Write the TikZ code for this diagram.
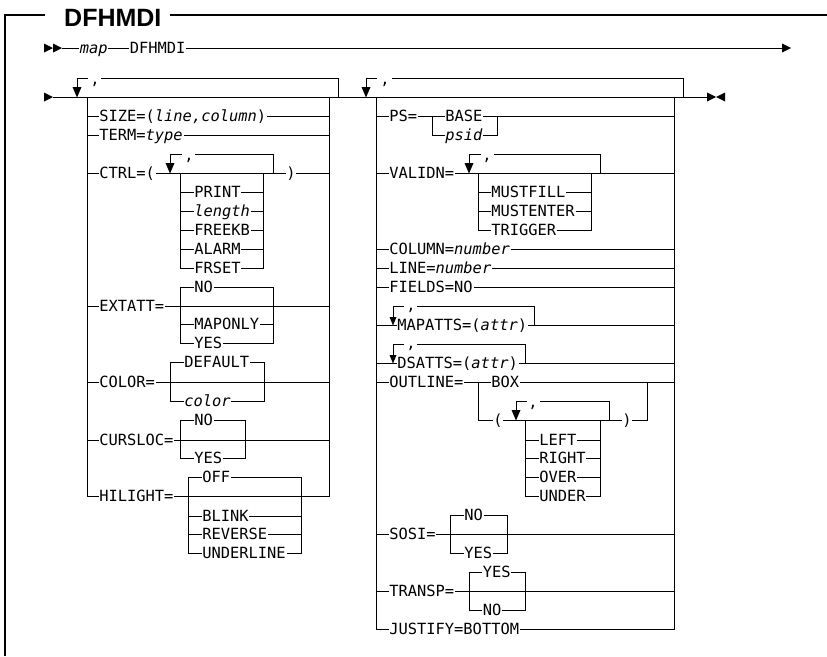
\documentclass[tikz,border=0pt]{standalone}
\usepackage{fontspec}
\newfontfamily\monofam{DejaVu Sans Mono}
\newfontfamily\titlefam{Liberation Sans}
\newcommand\vv[1]{{\itshape #1}}
\newcommand\downarr[2]{\fill (#1-4.5,#2-10) -- (#1+4.5,#2-10) -- (#1,#2+0.5) -- cycle;}
\newcommand\smallarr[2]{\fill (#1-3.5,#2-8) -- (#1+3.5,#2-8) -- (#1,#2+0.5) -- cycle;}
\newcommand\rightarr[2]{\fill (#1,#2-4.5) -- (#1+9,#2) -- (#1,#2+4.5) -- cycle;}
\newcommand\leftarr[2]{\fill (#1,#2-4.5) -- (#1-9,#2) -- (#1,#2+4.5) -- cycle;}
\begin{document}
\begin{tikzpicture}[x=1pt,y=-1pt,
  rail/.style={line width=0.9pt},
  frame/.style={line width=1.3pt},
  lab/.style={font=\monofam\fontsize{15.4}{18}\selectfont, anchor=west, inner xsep=0.6pt, inner ysep=0pt, text height=14pt, text depth=2.8pt},
  comma/.style={font=\monofam\fontsize{15.4}{18}\selectfont, anchor=base, inner sep=0pt}]
\useasboundingbox (0,0) rectangle (827,656);

% frame and title
\node[anchor=base west, inner sep=0pt, font=\titlefam\bfseries\fontsize{25}{29}\selectfont] (title) at (64,26) {DFHMDI};
\draw[frame] (45,15) -- (5,15) -- (5,656);
\draw[frame] (170,15) -- (827,15);

% line 1
\rightarr{44}{48}
\rightarr{53}{48}
\node[lab] (map) at (79,48) {\vv{map}};
\node[lab] (dfh) at (129,48) {DFHMDI};
\draw[rail] (62,48) -- (map.west) (map.east) -- (dfh.west) (dfh.east) -- (782,48);
\rightarr{782}{48}

% main line 2
\rightarr{44}{97}
\draw[rail] (53,97) -- (707,97);
\rightarr{707}{97}
\leftarr{725}{97}

% ---------- left group ----------
\draw[rail] (77,88) -- (77,78) -- (88,78);
\node[comma] (cm1) at (95,84.5) {,};
\draw[rail] (101,78) -- (338,78) -- (338,97);
\downarr{77}{97}

\node[lab] (size) at (98.5,116) {SIZE=(\vv{line,column})};
\draw[rail] (87,116) -- (size.west) (size.east) -- (329,116);
\node[lab] (term) at (98.5,135) {TERM=\vv{type}};
\draw[rail] (87,135) -- (term.west) (term.east) -- (329,135);

% CTRL
\node[lab] (ctrl) at (98.5,173) {CTRL=(};
\node[lab] (ctrlr) at (285.5,173) {)};
\draw[rail] (87,173) -- (ctrl.west) (ctrl.east) -- (ctrlr.west) (ctrlr.east) -- (329,173);
\draw[rail] (170,164) -- (170,154) -- (182,154);
\node[comma] (cm2) at (189,160.5) {,};
\draw[rail] (195,154) -- (273,154) -- (273,173);
\downarr{170}{173}
\node[lab] (print) at (193.5,192) {PRINT};
\node[lab] (length) at (193.5,211) {\vv{length}};
\node[lab] (freekb) at (193.5,230) {FREEKB};
\node[lab] (alarm) at (193.5,249) {ALARM};
\node[lab] (frset) at (193.5,268) {FRSET};
\draw[rail] (180,173) -- (180,268) -- (frset.west);
\draw[rail] (263,173) -- (263,268) -- (frset.east);
\foreach \n in {print,length,freekb,alarm} {
  \draw[rail] (\n.west) -- (\n.west -| 180,0) (\n.east) -- (\n.east -| 263,0);
}

% EXTATT
\node[lab] (extatt) at (98.5,306) {EXTATT=};
\draw[rail] (87,306) -- (extatt.west) (extatt.east) -- (329,306);
\node[lab] (exno) at (193.5,287) {NO};
\node[lab] (exmap) at (193.5,324) {MAPONLY};
\node[lab] (exyes) at (193.5,343) {YES};
\draw[rail] (exno.west) -- (180,287) -- (180,343) -- (exyes.west);
\draw[rail] (exno.east) -- (273,287) -- (273,343) -- (exyes.east);
\draw[rail] (180,324) -- (exmap.west) (exmap.east) -- (273,324);

% COLOR
\node[lab] (color) at (98.5,382) {COLOR=};
\draw[rail] (87,382) -- (color.west) (color.east) -- (329,382);
\node[lab] (codef) at (183.5,362) {DEFAULT};
\node[lab] (cocol) at (183.5,401) {\vv{color}};
\draw[rail] (codef.west) -- (170,362) -- (170,401) -- (cocol.west);
\draw[rail] (codef.east) -- (264,362) -- (264,401) -- (cocol.east);

% CURSLOC
\node[lab] (cursloc) at (98.5,440) {CURSLOC=};
\draw[rail] (87,440) -- (cursloc.west) (cursloc.east) -- (329,440);
\node[lab] (cuno) at (193.5,420) {NO};
\node[lab] (cuyes) at (193.5,458) {YES};
\draw[rail] (cuno.west) -- (180,420) -- (180,458) -- (cuyes.west);
\draw[rail] (cuno.east) -- (245,420) -- (245,458) -- (cuyes.east);

% HILIGHT
\node[lab] (hilight) at (98.5,496) {HILIGHT=};
\draw[rail] (87,97) -- (87,496) -- (hilight.west);
\draw[rail] (hilight.east) -- (329,496) -- (329,97);
\node[lab] (hioff) at (201.5,477) {OFF};
\node[lab] (hiblink) at (201.5,516) {BLINK};
\node[lab] (hirev) at (201.5,534) {REVERSE};
\node[lab] (hiund) at (201.5,553) {UNDERLINE};
\draw[rail] (hioff.west) -- (188,477) -- (188,553) -- (hiund.west);
\draw[rail] (hioff.east) -- (301,477) -- (301,553) -- (hiund.east);
\draw[rail] (188,516) -- (hiblink.west) (hiblink.east) -- (301,516);
\draw[rail] (188,534) -- (hirev.west) (hirev.east) -- (301,534);

% ---------- right group ----------
\draw[rail] (366,88) -- (366,78) -- (377,78);
\node[comma] (cm3) at (385,84.5) {,};
\draw[rail] (392,78) -- (683,78) -- (683,97);
\downarr{366}{97}

% PS
\node[lab] (ps) at (388.5,116) {PS=};
\node[lab] (psbase) at (444.5,116) {BASE};
\node[lab] (psid) at (444.5,135) {\vv{psid}};
\draw[rail] (376,116) -- (ps.west) (ps.east) -- (psbase.west) (psbase.east) -- (674,116);
\draw[rail] (432,116) -- (432,135) -- (psid.west);
\draw[rail] (psid.east) -- (497,135) -- (497,116);

% VALIDN
\node[lab] (validn) at (388.5,173) {VALIDN=};
\draw[rail] (376,173) -- (validn.west) (validn.east) -- (674,173);
\draw[rail] (469,164) -- (469,154) -- (481,154);
\node[comma] (cm4) at (487,160.5) {,};
\draw[rail] (494,154) -- (600,154) -- (600,173);
\downarr{469}{173}
\node[lab] (mfill) at (490.5,192) {MUSTFILL};
\node[lab] (menter) at (490.5,211) {MUSTENTER};
\node[lab] (trig) at (490.5,230) {TRIGGER};
\draw[rail] (478,173) -- (478,230) -- (trig.west);
\draw[rail] (591,173) -- (591,230) -- (trig.east);
\draw[rail] (478,192) -- (mfill.west) (mfill.east) -- (591,192);
\draw[rail] (478,211) -- (menter.west) (menter.east) -- (591,211);

% simple rows
\node[lab] (column) at (388.5,249) {COLUMN=\vv{number}};
\draw[rail] (376,249) -- (column.west) (column.east) -- (674,249);
\node[lab] (line) at (388.5,268) {LINE=\vv{number}};
\draw[rail] (376,268) -- (line.west) (line.east) -- (674,268);
\node[lab] (fields) at (388.5,287) {FIELDS=NO};
\draw[rail] (376,287) -- (fields.west) (fields.east) -- (674,287);

% MAPATTS
\node[lab] (mapatts) at (396.5,325) {MAPATTS=(\vv{attr})};
\draw[rail] (376,325) -- (mapatts.west) (mapatts.east) -- (674,325);
\draw[rail] (393,317) -- (393,306) -- (404,306);
\node[comma] (cm5) at (411,310) {,};
\draw[rail] (417,306) -- (534,306) -- (534,325);
\smallarr{393}{325}

% DSATTS
\node[lab] (dsatts) at (396.5,363) {DSATTS=(\vv{attr})};
\draw[rail] (376,363) -- (dsatts.west) (dsatts.east) -- (674,363);
\draw[rail] (393,355) -- (393,344) -- (404,344);
\node[comma] (cm6) at (411,348) {,};
\draw[rail] (417,344) -- (525,344) -- (525,363);
\smallarr{393}{363}

% OUTLINE
\node[lab] (outline) at (388.5,382) {OUTLINE=};
\node[lab] (obox) at (490.5,382) {BOX};
\node[lab] (olp) at (492.5,420) {(};
\node[lab] (orp) at (621.5,420) {)};
\draw[rail] (376,382) -- (outline.west) (outline.east) -- (obox.west) (obox.east) -- (674,382);
\draw[rail] (478,382) -- (478,420) -- (olp.west);
\draw[rail] (orp.east) -- (647,420) -- (647,382);
\draw[rail] (olp.east) -- (orp.west);
\draw[rail] (516,411) -- (516,401) -- (527,401);
\node[comma] (cm7) at (533,407) {,};
\draw[rail] (540,401) -- (609,401) -- (609,420);
\downarr{516}{420}
\node[lab] (oleft) at (538.5,440) {LEFT};
\node[lab] (oright) at (538.5,458) {RIGHT};
\node[lab] (oover) at (538.5,477) {OVER};
\node[lab] (ounder) at (538.5,496) {UNDER};
\draw[rail] (525,420) -- (525,496) -- (ounder.west);
\draw[rail] (600,420) -- (600,496) -- (ounder.east);
\foreach \n/\yy in {oleft/440,oright/458,oover/477} {
  \draw[rail] (525,\yy) -- (\n.west) (\n.east) -- (600,\yy);
}

% SOSI
\node[lab] (sosi) at (388.5,534) {SOSI=};
\draw[rail] (376,534) -- (sosi.west) (sosi.east) -- (674,534);
\node[lab] (sono) at (463.5,515) {NO};
\node[lab] (soyes) at (463.5,553) {YES};
\draw[rail] (sono.west) -- (450,515) -- (450,553) -- (soyes.west);
\draw[rail] (sono.east) -- (507,515) -- (507,553) -- (soyes.east);

% TRANSP
\node[lab] (transp) at (388.5,591) {TRANSP=};
\draw[rail] (376,591) -- (transp.west) (transp.east) -- (674,591);
\node[lab] (tryes) at (482,572) {YES};
\node[lab] (trno) at (482,610) {NO};
\draw[rail] (tryes.west) -- (469,572) -- (469,610) -- (trno.west);
\draw[rail] (tryes.east) -- (525,572) -- (525,610) -- (trno.east);

% JUSTIFY
\node[lab] (justify) at (388.5,629) {JUSTIFY=BOTTOM};
\draw[rail] (376,97) -- (376,629) -- (justify.west);
\draw[rail] (justify.east) -- (674,629) -- (674,97);
\end{tikzpicture}
\end{document}
